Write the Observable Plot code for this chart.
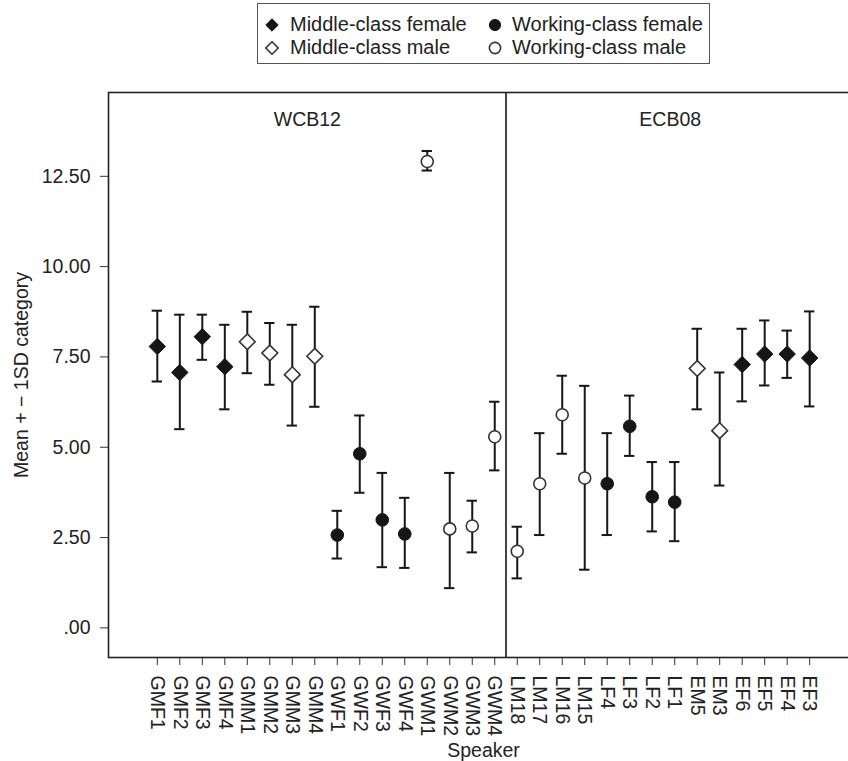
<!DOCTYPE html>
<html>
<head>
<meta charset="utf-8">
<script src="https://cdn.jsdelivr.net/npm/d3@7"></script>
<script src="https://cdn.jsdelivr.net/npm/@observablehq/plot@0.6"></script>
<style>
  html, body { margin: 0; padding: 0; overflow: hidden; background: #fff; }
  body { width: 848px; height: 761px; font-family: "Liberation Sans", Arial, Helvetica, sans-serif; color: #222; }
  #legend { position: relative; height: 70px; }
  #legend .box { position: absolute; left: 257px; top: 3px; width: 453px; height: 61px; border: 1.5px solid #555; box-sizing: border-box; }
  #legend .item { position: absolute; font-size: 20px; line-height: 22px; white-space: nowrap; }
  #legend svg { position: absolute; overflow: visible; }
  #chart svg { display: block; overflow: hidden; }
</style>
</head>
<body>
<div id="legend"><div class="box"></div></div>
<div id="chart"></div>
<script>
// ---------- data ----------
const wcbSpeakers = ["GMF1","GMF2","GMF3","GMF4","GMM1","GMM2","GMM3","GMM4","GWF1","GWF2","GWF3","GWF4","GWM1","GWM2","GWM3","GWM4"];
const ecbSpeakers = ["LM18","LM17","LM16","LM15","LF4","LF3","LF2","LF1","EM5","EM3","EF6","EF5","EF4","EF3"];
const speakers = [...wcbSpeakers, ...ecbSpeakers];
const speakerGroup = ["MF","MF","MF","MF","MM","MM","MM","MM","WF","WF","WF","WF","WM","WM","WM","WM",
                      "WM","WM","WM","WM","WF","WF","WF","WF","MM","MM","MF","MF","MF","MF"];
const means = [7.79,7.07,8.06,7.23,7.92,7.61,7.01,7.52, 2.57,4.82,2.99,2.60,12.91,2.74,2.82,5.29,
               2.12,3.99,5.90,4.15,3.99,5.58,3.63,3.48,7.18,5.46,7.29,7.58,7.58,7.47];
const upper = [8.78,8.67,8.67,8.39,8.75,8.44,8.39,8.89, 3.24,5.88,4.29,3.60,13.20,4.29,3.52,6.26,
               2.80,5.39,6.98,6.70,5.39,6.43,4.59,4.59,8.28,7.07,8.28,8.51,8.23,8.76];
const lower = [6.82,5.50,7.42,6.05,7.05,6.73,5.60,6.12, 1.92,3.74,1.68,1.66,12.66,1.10,2.09,4.36,
               1.37,2.57,4.82,1.61,2.57,4.76,2.67,2.40,6.05,3.94,6.27,6.71,6.92,6.13];
const groupNames = {MF: "Middle-class female", WF: "Working-class female", MM: "Middle-class male", WM: "Working-class male"};
const legendOrder = ["MF", "WF", "MM", "WM"];
const yTicks = [0, 2.5, 5, 7.5, 10, 12.5];
const yTickLabels = [".00", "2.50", "5.00", "7.50", "10.00", "12.50"];
const panels = [{name: "WCB12", center: 6.67}, {name: "ECB08", center: 22.8}];
const xLabel = "Speaker";
const yLabel = "Mean + \u2212 1SD category";

// ---------- styles ----------
const groupStyle = {
  MF: {symbol: d3.symbolDiamond2, fill: "#161616", stroke: "#161616", r: 7.4, sw: 1},
  MM: {symbol: d3.symbolDiamond2, fill: "#fff", stroke: "#333", r: 7.1, sw: 1.6},
  WF: {symbol: d3.symbolCircle, fill: "#161616", stroke: "#161616", r: 6.3, sw: 1},
  WM: {symbol: d3.symbolCircle, fill: "#fff", stroke: "#333", r: 6.0, sw: 1.6}
};

const rows = speakers.map((s, i) => ({i, speaker: s, group: speakerGroup[i], mean: means[i], lo: lower[i], hi: upper[i]}));
const divider = wcbSpeakers.length - 0.5;
const xPad = 2.17;
const capHalf = 0.23;
const FONT = '"Liberation Sans", Arial, Helvetica, sans-serif';

// ---------- legend ----------
const legend = document.getElementById("legend");
const legPos = {MF: [272, 25, 290], WF: [495, 25, 512], MM: [272, 47.5, 290], WM: [495, 47.5, 512]};
legendOrder.forEach(g => {
  const [cx, cy, tx] = legPos[g];
  const st = groupStyle[g];
  const sz = 5.6;
  const svg = d3.create("svg").attr("width", 20).attr("height", 20)
    .style("left", (cx - 10) + "px").style("top", (cy - 10) + "px");
  svg.append("path")
    .attr("transform", "translate(10,10)")
    .attr("d", d3.symbol(st.symbol, sz * sz * Math.PI)())
    .attr("fill", st.fill).attr("stroke", st.stroke).attr("stroke-width", st.sw);
  legend.appendChild(svg.node());
  const t = document.createElement("div");
  t.className = "item";
  t.textContent = groupNames[g];
  t.style.left = tx + "px";
  t.style.top = (cy - 12) + "px";
  legend.appendChild(t);
});

// ---------- chart ----------
const dotMarks = legendOrder.map(g => {
  const st = groupStyle[g];
  return Plot.dot(rows.filter(d => d.group === g), {
    x: "i", y: "mean", symbol: st.symbol, r: st.r,
    fill: st.fill, stroke: st.stroke, strokeWidth: st.sw
  });
});

const chart = Plot.plot({
  width: 848,
  height: 691,
  marginLeft: 108,
  marginRight: -10,
  marginTop: 22,
  marginBottom: 104,
  style: {fontFamily: FONT, fontSize: "19.5px", color: "#222", background: "#fff", overflow: "hidden"},
  x: {type: "linear", domain: [-xPad, speakers.length - 1 + xPad]},
  y: {domain: [-0.82, 14.82]},
  marks: [
    Plot.axisY(yTicks, {
      tickFormat: v => yTickLabels[yTicks.indexOf(v)],
      tickSize: 8, tickPadding: 10, label: null, stroke: "#333", fill: "#222"
    }),
    Plot.axisX(rows.map(d => d.i), {
      tickFormat: i => speakers[i], tickRotate: 90,
      tickSize: 8, tickPadding: 10, label: null, stroke: "#333", fill: "#222"
    }),
    Plot.ruleX(rows, {x: "i", y1: "lo", y2: "hi", stroke: "#161616", strokeWidth: 2}),
    Plot.ruleY(rows, {y: "hi", x1: d => d.i - capHalf, x2: d => d.i + capHalf, stroke: "#161616", strokeWidth: 2}),
    Plot.ruleY(rows, {y: "lo", x1: d => d.i - capHalf, x2: d => d.i + capHalf, stroke: "#161616", strokeWidth: 2}),
    ...dotMarks,
    Plot.ruleX([divider], {stroke: "#161616", strokeWidth: 1.6}),
    Plot.text(panels, {x: "center", text: "name", frameAnchor: "top", dy: 27, fill: "#222", lineAnchor: "middle"}),
    Plot.text([yLabel], {frameAnchor: "left", dx: -87, rotate: -90, fill: "#222", textAnchor: "middle", lineAnchor: "middle"}),
    Plot.text([xLabel], {frameAnchor: "bottom", dy: 93, fill: "#222", textAnchor: "middle", lineAnchor: "middle"}),
    Plot.frame({stroke: "#222", strokeWidth: 1.6})
  ]
});
document.getElementById("chart").appendChild(chart);
</script>
</body>
</html>
